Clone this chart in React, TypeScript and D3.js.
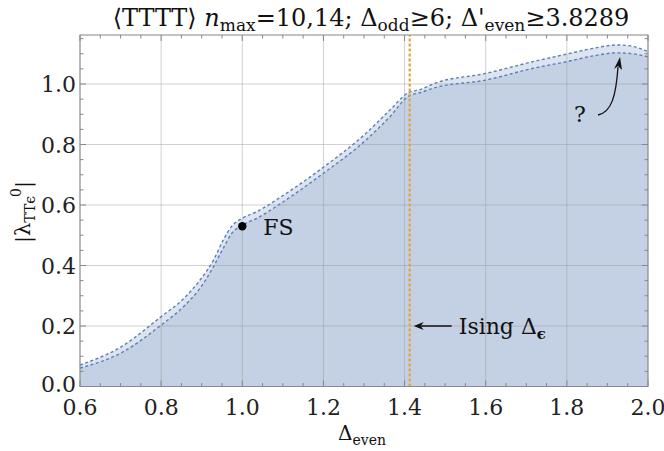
import React, { useEffect, useRef } from 'react';
import * as d3 from 'd3';

// Δ_even sample positions and the two bound curves
const deltaEven = [0.6, 0.7, 0.8, 0.855, 0.896, 0.929, 0.953, 0.974, 1.0, 1.036, 1.1, 1.2, 1.3, 1.364, 1.41, 1.44, 1.47, 1.6, 1.717, 1.8, 1.865, 1.923, 1.956, 2.0];
const upperBound = [0.071, 0.13, 0.231, 0.29, 0.352, 0.418, 0.484, 0.53, 0.556, 0.578, 0.631, 0.725, 0.831, 0.914, 0.972, 0.982, 1.0, 1.035, 1.074, 1.099, 1.118, 1.129, 1.126, 1.107];
const lowerBound = [0.061, 0.11, 0.203, 0.264, 0.325, 0.396, 0.457, 0.506, 0.534, 0.556, 0.61, 0.705, 0.809, 0.892, 0.96, 0.972, 0.986, 1.013, 1.052, 1.074, 1.093, 1.103, 1.101, 1.09];

const xTicks = [0.6, 0.8, 1.0, 1.2, 1.4, 1.6, 1.8, 2.0];
const yTicks = [0.0, 0.2, 0.4, 0.6, 0.8, 1.0];
const isingDelta = 1.412625;
const fsPoint = [1.0, 0.53];

const W = 664, H = 451;
const font = 'DejaVu Serif';

const App = () => {
  const ref = useRef(null);

  useEffect(() => {
    const svg = d3.select(ref.current);
    svg.selectAll('*').remove();

    const margin = { top: 35, right: 16, bottom: 64.5, left: 80 };
    const x = d3.scaleLinear().domain([0.6, 2.0]).range([margin.left, W - margin.right]);
    const y = d3.scaleLinear().domain([0, 1.162]).range([H - margin.bottom, margin.top]);
    const x0 = x.range()[0], x1 = x.range()[1];
    const y0 = y.range()[0], y1 = y.range()[1];

    const up = deltaEven.map((d, i) => [d, upperBound[i]]);
    const lo = deltaEven.map((d, i) => [d, lowerBound[i]]);

    const area = d3.area().x(d => x(d[0])).y0(y(0)).y1(d => y(d[1])).curve(d3.curveMonotoneX);
    const line = d3.line().x(d => x(d[0])).y(d => y(d[1])).curve(d3.curveMonotoneX);

    svg.append('path').attr('d', area(up)).attr('fill', '#dde4f0');
    svg.append('path').attr('d', area(lo)).attr('fill', '#c4d0e3');

    // grid
    const g = svg.append('g');
    xTicks.forEach(t => g.append('line').attr('x1', x(t)).attr('x2', x(t)).attr('y1', y0).attr('y2', y1)
      .attr('stroke', '#999').attr('stroke-opacity', 0.45).attr('stroke-width', 1));
    yTicks.forEach(t => g.append('line').attr('x1', x0).attr('x2', x1).attr('y1', y(t)).attr('y2', y(t))
      .attr('stroke', '#999').attr('stroke-opacity', 0.45).attr('stroke-width', 1));

    [up, lo].forEach(pts => svg.append('path').attr('d', line(pts)).attr('fill', 'none')
      .attr('stroke', '#5a7fbd').attr('stroke-width', 1.4).attr('stroke-dasharray', '3,2.5'));

    // Ising line
    svg.append('line').attr('x1', x(isingDelta)).attr('x2', x(isingDelta)).attr('y1', y0).attr('y2', y1)
      .attr('stroke', '#e3a33a').attr('stroke-width', 2.2).attr('stroke-dasharray', '3,2');

    // frame + ticks
    svg.append('rect').attr('x', x0).attr('y', y1).attr('width', x1 - x0).attr('height', y0 - y1)
      .attr('fill', 'none').attr('stroke', '#888').attr('stroke-width', 1);
    const xMinor = d3.range(0.6, 2.0001, 0.05);
    xMinor.forEach(t => {
      const major = xTicks.some(m => Math.abs(m - t) < 1e-6);
      const len = major ? 6 : 3.5;
      svg.append('line').attr('x1', x(t)).attr('x2', x(t)).attr('y1', y0).attr('y2', y0 - len).attr('stroke', '#888');
      svg.append('line').attr('x1', x(t)).attr('x2', x(t)).attr('y1', y1).attr('y2', y1 + len).attr('stroke', '#888');
    });
    const yMinor = d3.range(0, 1.1501, 0.05);
    yMinor.forEach(t => {
      const major = yTicks.some(m => Math.abs(m - t) < 1e-6);
      const len = major ? 6 : 3.5;
      svg.append('line').attr('x1', x0).attr('x2', x0 + len).attr('y1', y(t)).attr('y2', y(t)).attr('stroke', '#888');
      svg.append('line').attr('x1', x1).attr('x2', x1 - len).attr('y1', y(t)).attr('y2', y(t)).attr('stroke', '#888');
    });

    // tick labels
    xTicks.forEach(t => svg.append('text').attr('x', x(t)).attr('y', y0 + 28).attr('text-anchor', 'middle')
      .style('font-family', font).attr('font-size', 22).attr('fill', '#222').text(d3.format('.1f')(t)));
    yTicks.forEach(t => svg.append('text').attr('x', x0 - 4).attr('y', y(t) + (t === 0 ? 5 : 8)).attr('text-anchor', 'end')
      .style('font-family', font).attr('font-size', 22).attr('fill', '#222').text(d3.format('.1f')(t)));

    // FS point
    svg.append('circle').attr('cx', x(fsPoint[0])).attr('cy', y(fsPoint[1])).attr('r', 4.2).attr('fill', '#000');
    svg.append('text').attr('x', x(fsPoint[0]) + 21).attr('y', y(fsPoint[1]) + 9)
      .style('font-family', font).attr('font-size', 22).attr('fill', '#111').text('FS');

    // Ising annotation
    const ay = y(0.2);
    svg.append('line').attr('x1', x(isingDelta) + 42).attr('x2', x(isingDelta) + 8).attr('y1', ay).attr('y2', ay)
      .attr('stroke', '#111').attr('stroke-width', 1.3);
    svg.append('path').attr('d', `M${x(isingDelta) + 4},${ay} l10,-4 l-3,4 l3,4 z`).attr('fill', '#111');
    const it = svg.append('text').attr('x', x(isingDelta) + 49).attr('y', ay + 8)
      .style('font-family', font).attr('font-size', 22).attr('fill', '#111');
    it.append('tspan').text('Ising Δ');
    it.append('tspan').attr('dy', 5).attr('font-size', 15).attr('font-weight', 'bold').text('ϵ');

    // question mark with curved arrow
    svg.append('text').attr('x', 574).attr('y', 122).style('font-family', font).attr('font-size', 22)
      .attr('fill', '#111').text('?');
    svg.append('path').attr('d', 'M598,115 C612,112 616,95 618,67').attr('fill', 'none')
      .attr('stroke', '#111').attr('stroke-width', 1.3);
    svg.append('path').attr('d', 'M620,57 l-6,12 l4,-3 l4,4 z').attr('fill', '#111');

    // title
    const tt = svg.append('text').attr('x', 371).attr('y', 26).attr('text-anchor', 'middle')
      .style('font-family', font).attr('font-size', 24).attr('fill', '#111');
    tt.append('tspan').text('⟨TTTT⟩ ');
    tt.append('tspan').attr('font-style', 'italic').text('n');
    tt.append('tspan').attr('dy', 5).attr('font-size', 17).text('max');
    tt.append('tspan').attr('dy', -5).text('=10,14; Δ');
    tt.append('tspan').attr('dy', 5).attr('font-size', 17).text('odd');
    tt.append('tspan').attr('dy', -5).text('≥6; Δ\'');
    tt.append('tspan').attr('dy', 5).attr('font-size', 17).text('even');
    tt.append('tspan').attr('dy', -5).text('≥3.8289');

    // x label
    const xl = svg.append('text').attr('x', 362).attr('y', 440).attr('text-anchor', 'middle')
      .style('font-family', font).attr('font-size', 20).attr('fill', '#111');
    xl.append('tspan').text('Δ');
    xl.append('tspan').attr('dy', 5).attr('font-size', 14).text('even');

    // y label
    const yl = svg.append('text').attr('transform', 'translate(30,212) rotate(-90)').attr('text-anchor', 'middle')
      .style('font-family', font).attr('font-size', 21).attr('fill', '#111');
    yl.append('tspan').text('|λ');
    yl.append('tspan').attr('dy', 5).attr('font-size', 14).text('TTϵ');
    yl.append('tspan').attr('dy', -14).attr('dx', -1).attr('font-size', 14).text('0');
    yl.append('tspan').attr('dy', 9).text('|');
  }, []);

  return (
    <svg ref={ref} width={W} height={H} style={{ position: 'absolute', left: 0, top: 0, background: '#fff' }} />
  );
};

export default App;
